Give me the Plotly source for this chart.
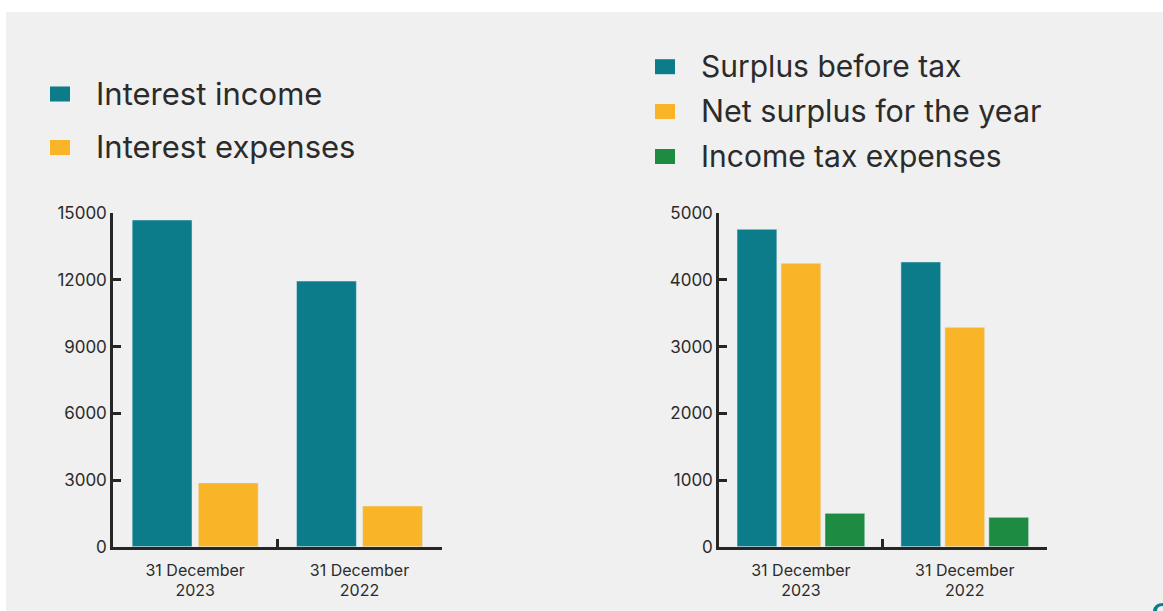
import plotly.graph_objects as go

W, H = 1163, 611

# ---- data ----
categories = ["31 December<br>2023", "31 December<br>2022"]

interest_income = [14700, 11950]
interest_expenses = [2870, 1830]

surplus_before_tax = [4760, 4270]
net_surplus = [4250, 3290]
income_tax = [500, 440]

left_ticks = [0, 3000, 6000, 9000, 12000, 15000]
right_ticks = [0, 1000, 2000, 3000, 4000, 5000]

TEAL = "#0C7B8A"
YELLOW = "#F9B428"
GREEN = "#1E8B43"
BG = "#EFF0EF"
AX = "#262626"
TXT = "#2B2B2B"
FONT = "Inter"

def px(x):
    return x / W

def py(y):
    return 1 - y / H

fig = go.Figure()

fig.add_trace(go.Bar(x=categories, y=interest_income, marker_color=TEAL,
                     name="Interest income", xaxis="x", yaxis="y", showlegend=False))
fig.add_trace(go.Bar(x=categories, y=interest_expenses, marker_color=YELLOW,
                     name="Interest expenses", xaxis="x", yaxis="y", showlegend=False))

fig.add_trace(go.Bar(x=categories, y=surplus_before_tax, marker_color=TEAL,
                     name="Surplus before tax", xaxis="x2", yaxis="y2", showlegend=False))
fig.add_trace(go.Bar(x=categories, y=net_surplus, marker_color=YELLOW,
                     name="Net surplus for the year", xaxis="x2", yaxis="y2", showlegend=False))
fig.add_trace(go.Bar(x=categories, y=income_tax, marker_color=GREEN,
                     name="Income tax expenses", xaxis="x2", yaxis="y2", showlegend=False))

ydom = [py(546.7), py(213.3)]

xcommon = dict(type="category", showline=True, linecolor=AX, linewidth=2.5,
               ticks="inside", tickson="boundaries", ticklen=8, tickwidth=2.5,
               tickcolor=AX, showgrid=False, zeroline=False, automargin=False,
               tickfont=dict(family=FONT, size=16, color=TXT),
               ticklabelstandoff=7, fixedrange=True)
ycommon = dict(showline=True, linecolor=AX, linewidth=2.5, ticks="inside",
               ticklen=8, tickwidth=2.5, tickcolor=AX, showgrid=False,
               zeroline=False, automargin=False, tickformat="d",
               tickfont=dict(family=FONT, size=17, color=TXT),
               ticklabelstandoff=0, fixedrange=True)

fig.update_layout(
    width=W, height=H,
    margin=dict(l=0, r=0, t=0, b=0, pad=0),
    paper_bgcolor="white",
    plot_bgcolor="rgba(0,0,0,0)",
    barmode="group",
    bargap=0.195,
    bargroupgap=0.095,
    hovermode=False,
    xaxis=dict(domain=[px(113), px(441.7)], anchor="y", **xcommon),
    yaxis=dict(domain=ydom, anchor="x", range=[0, 15000], tickvals=left_ticks, **ycommon),
    xaxis2=dict(domain=[px(719), px(1046.7)], anchor="y2", **xcommon),
    yaxis2=dict(domain=ydom, anchor="x2", range=[0, 5000], tickvals=right_ticks, **ycommon),
)

shapes = [
    dict(type="rect", xref="paper", yref="paper", x0=px(6), x1=1, y0=0, y1=py(12),
         fillcolor=BG, line=dict(width=0), layer="below"),
]

annotations = []

def legend_item(x_marker, y_center, color, text, size):
    shapes.append(dict(type="rect", xref="paper", yref="paper",
                       x0=px(x_marker), x1=px(x_marker + 20),
                       y0=py(y_center + 7.5), y1=py(y_center - 7.5),
                       fillcolor=color, line=dict(width=0)))
    annotations.append(dict(xref="paper", yref="paper", x=px(x_marker + 44),
                            y=py(y_center - 1), xanchor="left", yanchor="middle",
                            text=text, showarrow=False,
                            font=dict(family=FONT, size=size, color=TXT)))

legend_item(50, 94, TEAL, "Interest income", 31)
legend_item(50, 147.5, YELLOW, "Interest expenses", 31)

legend_item(655, 66.7, TEAL, "Surplus before tax", 30)
legend_item(655, 111.5, YELLOW, "Net surplus for the year", 30.5)
legend_item(655, 156.5, GREEN, "Income tax expenses", 30)

# small decorative corner mark
shapes.append(dict(type="path", xref="paper", yref="paper",
                   path=f"M {px(1153)} {py(611)} Q {px(1154)} {py(603)} {px(1163)} {py(603)} "
                        f"L {px(1163)} {py(606)} Q {px(1157)} {py(606)} {px(1157)} {py(611)} Z",
                   fillcolor=TEAL, line=dict(width=0)))

fig.update_layout(shapes=shapes, annotations=annotations)

fig.write_html("out.html",
               config={"displayModeBar": False},
               post_script="document.body.style.margin='0';document.body.style.overflow='hidden';")
